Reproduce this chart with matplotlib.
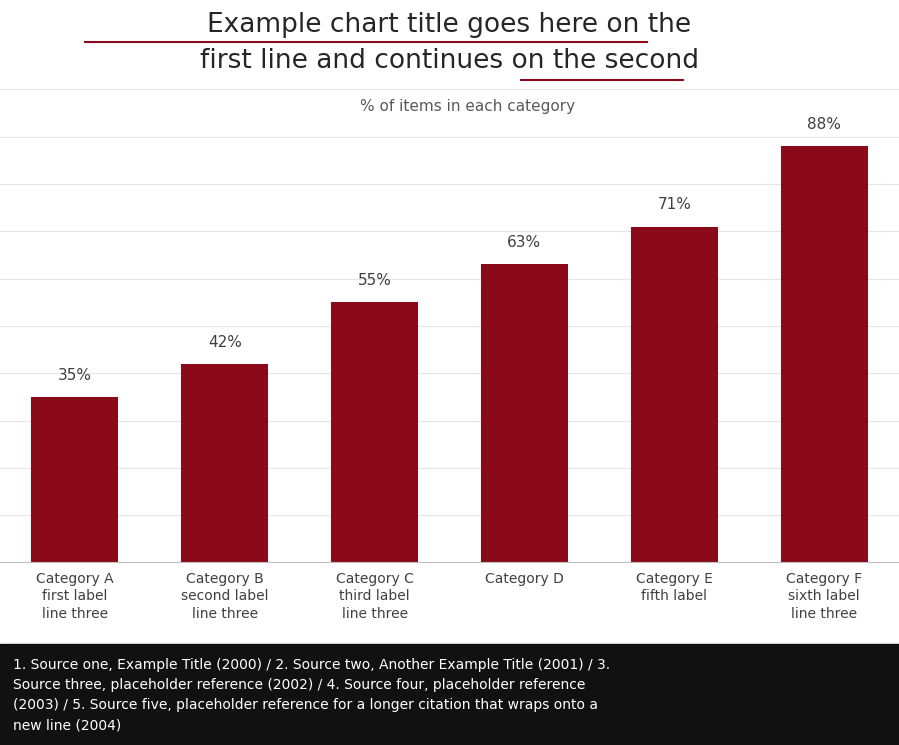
import matplotlib
matplotlib.use("Agg")
import matplotlib.pyplot as plt
import numpy as np

# placeholder content - replace with your own data
title_line1 = "Example chart title goes here on the"
title_line2 = "first line and continues on the second"
subtitle = "% of items in each category"
categories = [
    "Category A\nfirst label\nline three",
    "Category B\nsecond label\nline three",
    "Category C\nthird label\nline three",
    "Category D",
    "Category E\nfifth label",
    "Category F\nsixth label\nline three",
]
values = [35, 42, 55, 63, 71, 88]
value_labels = ["35%", "42%", "55%", "63%", "71%", "88%"]
footer = ("1. Source one, Example Title (2000) / 2. Source two, Another Example Title (2001) / 3.\n"
          "Source three, placeholder reference (2002) / 4. Source four, placeholder reference\n"
          "(2003) / 5. Source five, placeholder reference for a longer citation that wraps onto a\n"
          "new line (2004)")

bar_color = "#8b0a1a"

fig = plt.figure(figsize=(8.99, 7.45), dpi=100)
ax = fig.add_axes([0.0, 0.245, 1.0, 0.635])

x = np.arange(len(values))
ax.bar(x, values, width=0.58, color=bar_color, zorder=2)
for xi, v, lab in zip(x, values, value_labels):
    ax.text(xi, v + 3, lab, ha="center", va="bottom", fontsize=11, color="#404040")

ax.set_xlim(-0.5, len(values) - 0.5)
ax.set_ylim(0, 100)
ax.set_yticks(np.arange(10, 101, 10))
ax.yaxis.grid(True, color="#e6e6e6", linewidth=0.8, zorder=0)
ax.tick_params(left=False, labelleft=False, bottom=False)
for s in ["top", "right", "left"]:
    ax.spines[s].set_visible(False)
ax.spines["bottom"].set_color("#bfbfbf")
ax.set_xticks(x)
ax.set_xticklabels(categories, fontsize=10, color="#404040", linespacing=1.3)

ax.text(0.52, 0.955, subtitle, transform=ax.transAxes, ha="center",
        fontsize=11, color="#595959")

fig.text(0.5, 0.967, title_line1, ha="center", va="center", fontsize=19, color="#262626")
fig.text(0.5, 0.918, title_line2, ha="center", va="center", fontsize=19, color="#262626")
# red underline accents under parts of the title
fig.add_artist(plt.Line2D([0.095, 0.72], [0.943, 0.943], color=bar_color, lw=1.5))
fig.add_artist(plt.Line2D([0.58, 0.76], [0.893, 0.893], color=bar_color, lw=1.5))

fig.patches.append(plt.Rectangle((0, 0), 1, 0.135, transform=fig.transFigure,
                                 color="#111111", zorder=0))
fig.text(0.015, 0.067, footer, ha="left", va="center", fontsize=10,
         color="white", linespacing=1.55)

fig.savefig("out.png", dpi=100)
